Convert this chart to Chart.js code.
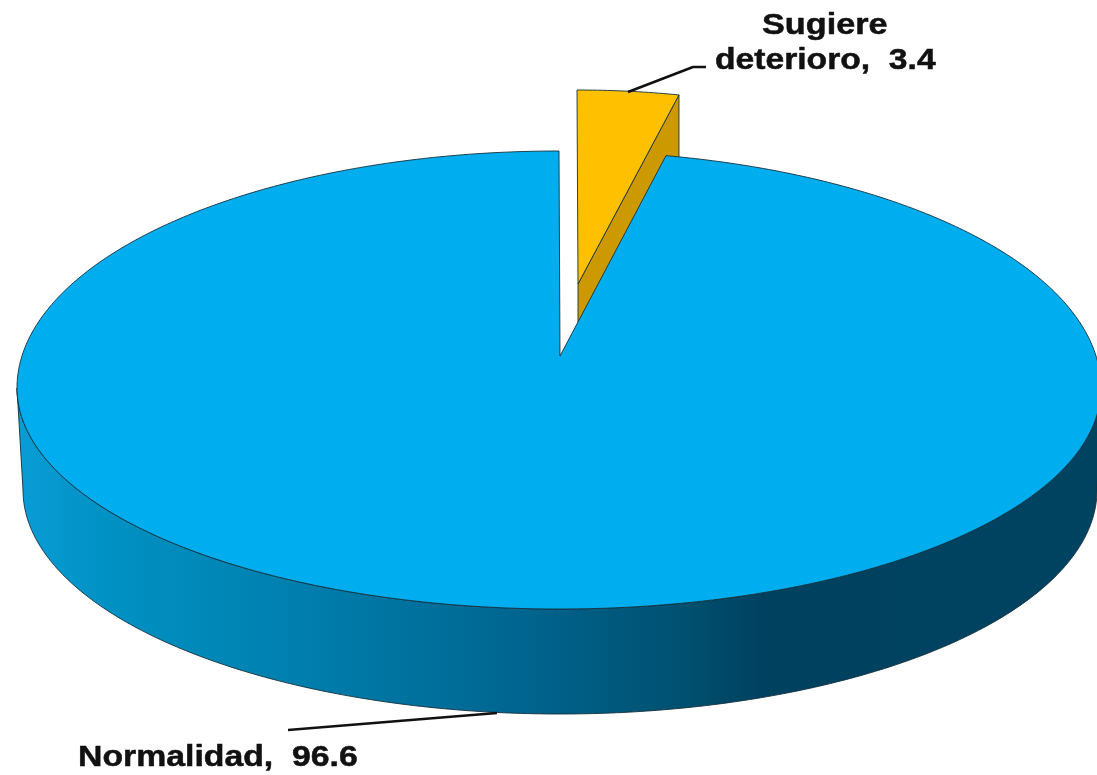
<!DOCTYPE html>
<html>
<head>
<meta charset="utf-8">
<title>Normalidad</title>
<style>
  html, body { margin: 0; padding: 0; background: #fff; overflow: hidden; }
  canvas { display: block; }
</style>
<script src="https://cdn.jsdelivr.net/npm/chart.js@4"></script>
</head>
<body>
<canvas id="pie-chart" width="1097" height="775"></canvas>
<script>
const categories = ['Sugiere deterioro', 'Normalidad'];
const values = [3.4, 96.6];
const sliceColors = ['#FFC000', '#00AEEF'];

// Forma del pastel 3D (la mitad de atrás se ve mayor por la perspectiva)
const top3d = { cx: 559, cy: 388, rx: 542, ryBack: 237, ryFront: 221, apex: [560, 356] };
const base3d = { cx: 560, cy: 490, rx: 537, ryBack: 224, ryFront: 224 };
const cut3d = { cx: 577, cy: 307, rx: 481, ryBack: 217, ryFront: 217, apex: [578, 284] };
const edgeColor = '#16303c';
// la perspectiva acerca un poco el corte derecho al vértice
const startTrim = 0.015;

function point(shape, a) {
    const s = Math.sin(a);
    return [shape.cx + shape.rx * Math.cos(a), shape.cy + (s < 0 ? shape.ryBack : shape.ryFront) * s];
}

function traceArc(ctx, shape, from, to) {
    const steps = Math.max(2, Math.ceil(Math.abs(to - from) * 90));
    for (let i = 0; i <= steps; i++) {
        const p = point(shape, from + (to - from) * i / steps);
        ctx.lineTo(p[0], p[1]);
    }
}

function outline(ctx, fill) {
    ctx.fillStyle = fill;
    ctx.fill();
    ctx.strokeStyle = edgeColor;
    ctx.lineWidth = 0.9;
    ctx.stroke();
}

function drawLabel(ctx, text, x, y, stretch) {
    ctx.save();
    ctx.translate(x, y);
    ctx.scale(stretch, 1);
    ctx.fillText(text, 0, 0);
    ctx.strokeText(text, 0, 0);
    ctx.restore();
}

function leader(ctx, pts) {
    ctx.beginPath();
    pts.forEach((p, i) => i ? ctx.lineTo(p[0], p[1]) : ctx.moveTo(p[0], p[1]));
    ctx.strokeStyle = '#111';
    ctx.lineWidth = 2.6;
    ctx.stroke();
}

const pie3d = {
    id: 'pie3d',
    beforeDatasetsDraw(chart) {
        const ctx = chart.ctx;
        const arcs = chart.getDatasetMeta(0).data;
        const cut = arcs[0];
        const rest = arcs[1];
        ctx.save();
        ctx.lineJoin = 'round';

        // porción separada
        const cutEnd = point(cut3d, cut.endAngle);
        ctx.beginPath();
        ctx.moveTo(cut3d.apex[0], cut3d.apex[1]);
        ctx.lineTo(cutEnd[0], cutEnd[1]);
        ctx.lineTo(cutEnd[0], 210);
        ctx.lineTo(cut3d.apex[0], 335);
        ctx.closePath();
        outline(ctx, '#CC9A00');

        ctx.beginPath();
        ctx.moveTo(cut3d.apex[0], cut3d.apex[1]);
        traceArc(ctx, cut3d, cut.startAngle, cut.endAngle);
        ctx.closePath();
        outline(ctx, cut.options.backgroundColor);

        // pared lateral
        const from = Math.max(rest.startAngle, 0);
        const to = Math.min(rest.endAngle, Math.PI);
        const wall = ctx.createLinearGradient(16, 0, 1097, 0);
        wall.addColorStop(0, '#0A9DD6');
        wall.addColorStop(0.08, '#0092C4');
        wall.addColorStop(0.25, '#0080AF');
        wall.addColorStop(0.45, '#006792');
        wall.addColorStop(0.62, '#00506F');
        wall.addColorStop(0.69, '#004160');
        wall.addColorStop(1, '#004361');
        ctx.beginPath();
        traceArc(ctx, top3d, from, to);
        traceArc(ctx, base3d, to, from);
        ctx.closePath();
        outline(ctx, wall);

        // cara superior
        ctx.beginPath();
        ctx.moveTo(top3d.apex[0], top3d.apex[1]);
        traceArc(ctx, top3d, rest.startAngle - startTrim, rest.endAngle);
        ctx.closePath();
        outline(ctx, rest.options.backgroundColor);

        // etiquetas
        leader(ctx, [[628, 92], [693, 67], [706, 67]]);
        leader(ctx, [[288, 730], [497, 713]]);
        ctx.fillStyle = '#111';
        ctx.strokeStyle = '#111';
        ctx.lineWidth = 0.5;
        ctx.font = 'bold 29px "Liberation Sans", Arial, sans-serif';
        ctx.textBaseline = 'alphabetic';
        const words = categories[0].split(' ');
        drawLabel(ctx, words[0], 762, 34, 1.18);
        drawLabel(ctx, words[1] + ',  ' + values[0], 715, 69, 1.16);
        drawLabel(ctx, categories[1] + ',  ' + values[1], 78, 766, 1.165);

        ctx.restore();
        return false;
    }
};

document.addEventListener('DOMContentLoaded', function () {
    const ctx = document.getElementById('pie-chart');
    new Chart(ctx, {
        type: 'pie',
        data: {
            labels: categories,
            datasets: [{
                data: values,
                backgroundColor: sliceColors,
                borderWidth: 0
            }]
        },
        options: {
            responsive: false,
            animation: false,
            plugins: {
                legend: { display: false },
                tooltip: { enabled: false }
            }
        },
        plugins: [pie3d]
    });
});
</script>
</body>
</html>
